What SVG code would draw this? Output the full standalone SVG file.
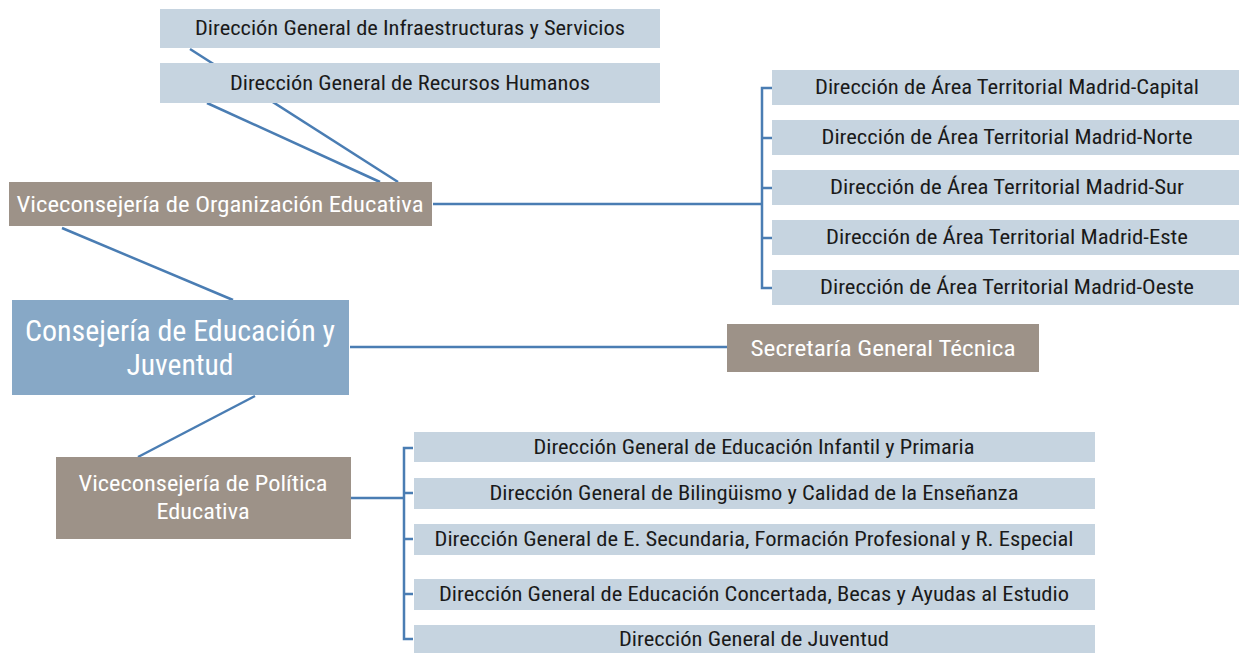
<svg xmlns="http://www.w3.org/2000/svg" width="1239" height="653" viewBox="0 0 1239 653">
<style>
.lb{fill:#C6D4E0}
.br{fill:#9D9288}
.mn{fill:#87A8C6}
.t{font-family:"Liberation Sans Narrow","Roboto Condensed","Liberation Sans",Arial,sans-serif;text-anchor:middle}
.dk{fill:#1A1A1A;font-size:20px}
.wh{fill:#FFFFFF;font-size:22px}
.big{fill:#FFFFFF;font-size:30px}
.cn{stroke:#4A7DB3;stroke-width:2.5;fill:none}
</style>
<rect width="1239" height="653" fill="#FFFFFF"/>
<g id="connectors">
<line class="cn" x1="190" y1="49" x2="398" y2="182"/>
<line class="cn" x1="207" y1="103" x2="380" y2="182"/>
<line class="cn" x1="433" y1="204" x2="762" y2="204"/>
<path class="cn" d="M772 88 H762 V288 H772 M762 138 H772 M762 188 H772 M762 238 H772"/>
<line class="cn" x1="62" y1="228" x2="233" y2="300"/>
<line class="cn" x1="255" y1="396" x2="138" y2="457"/>
<line class="cn" x1="350" y1="347" x2="727" y2="347"/>
<line class="cn" x1="351" y1="498" x2="404" y2="498"/>
<path class="cn" d="M413 448 H404 V639 H413 M404 493 H413 M404 539 H413 M404 594 H413"/>
</g>
<g id="dg-infra"><rect class="lb" x="160" y="9" width="500" height="39"/><text class="t dk" x="410" y="35" textLength="430" lengthAdjust="spacingAndGlyphs">Dirección General de Infraestructuras y Servicios</text></g>
<g id="dg-rrhh"><rect class="lb" x="160" y="63" width="500" height="40"/><text class="t dk" x="410" y="90" textLength="360" lengthAdjust="spacingAndGlyphs">Dirección General de Recursos Humanos</text></g>
<g id="vice-org"><rect class="br" x="9" y="182" width="423" height="44"/><text class="t wh" x="220" y="212" textLength="407" lengthAdjust="spacingAndGlyphs">Viceconsejería de Organización Educativa</text></g>
<g id="dat-capital"><rect class="lb" x="772" y="70" width="467" height="35"/><text class="t dk" x="1007" y="94" textLength="384" lengthAdjust="spacingAndGlyphs">Dirección de Área Territorial Madrid-Capital</text></g>
<g id="dat-norte"><rect class="lb" x="772" y="120" width="467" height="35"/><text class="t dk" x="1007" y="144" textLength="371" lengthAdjust="spacingAndGlyphs">Dirección de Área Territorial Madrid-Norte</text></g>
<g id="dat-sur"><rect class="lb" x="772" y="170" width="467" height="35"/><text class="t dk" x="1007" y="194" textLength="354" lengthAdjust="spacingAndGlyphs">Dirección de Área Territorial Madrid-Sur</text></g>
<g id="dat-este"><rect class="lb" x="772" y="220" width="467" height="35"/><text class="t dk" x="1007" y="244" textLength="362" lengthAdjust="spacingAndGlyphs">Dirección de Área Territorial Madrid-Este</text></g>
<g id="dat-oeste"><rect class="lb" x="772" y="270" width="467" height="35"/><text class="t dk" x="1007" y="294" textLength="374" lengthAdjust="spacingAndGlyphs">Dirección de Área Territorial Madrid-Oeste</text></g>
<g id="consejeria"><rect class="mn" x="12" y="300" width="337" height="95"/><text class="t big" x="180" y="341" textLength="310" lengthAdjust="spacingAndGlyphs">Consejería de Educación y</text><text class="t big" x="180" y="375" textLength="107" lengthAdjust="spacingAndGlyphs">Juventud</text></g>
<g id="secretaria"><rect class="br" x="727" y="324" width="312" height="48"/><text class="t wh" x="883" y="356" textLength="265" lengthAdjust="spacingAndGlyphs">Secretaría General Técnica</text></g>
<g id="vice-pol"><rect class="br" x="56" y="457" width="295" height="82"/><text class="t wh" x="203" y="491" textLength="249" lengthAdjust="spacingAndGlyphs">Viceconsejería de Política</text><text class="t wh" x="203" y="519" textLength="93" lengthAdjust="spacingAndGlyphs">Educativa</text></g>
<g id="dg-infantil"><rect class="lb" x="414" y="432" width="681" height="30"/><text class="t dk" x="754" y="454" textLength="441" lengthAdjust="spacingAndGlyphs">Dirección General de Educación Infantil y Primaria</text></g>
<g id="dg-bilinguismo"><rect class="lb" x="414" y="478" width="681" height="31"/><text class="t dk" x="754" y="500" textLength="529" lengthAdjust="spacingAndGlyphs">Dirección General de Bilingüismo y Calidad de la Enseñanza</text></g>
<g id="dg-secundaria"><rect class="lb" x="414" y="524" width="681" height="31"/><text class="t dk" x="754" y="546" textLength="639" lengthAdjust="spacingAndGlyphs">Dirección General de E. Secundaria, Formación Profesional y R. Especial</text></g>
<g id="dg-concertada"><rect class="lb" x="414" y="579" width="681" height="31"/><text class="t dk" x="754" y="601" textLength="630" lengthAdjust="spacingAndGlyphs">Dirección General de Educación Concertada, Becas y Ayudas al Estudio</text></g>
<g id="dg-juventud"><rect class="lb" x="414" y="625" width="681" height="30"/><text class="t dk" x="754" y="646" textLength="270" lengthAdjust="spacingAndGlyphs">Dirección General de Juventud</text></g>
</svg>
